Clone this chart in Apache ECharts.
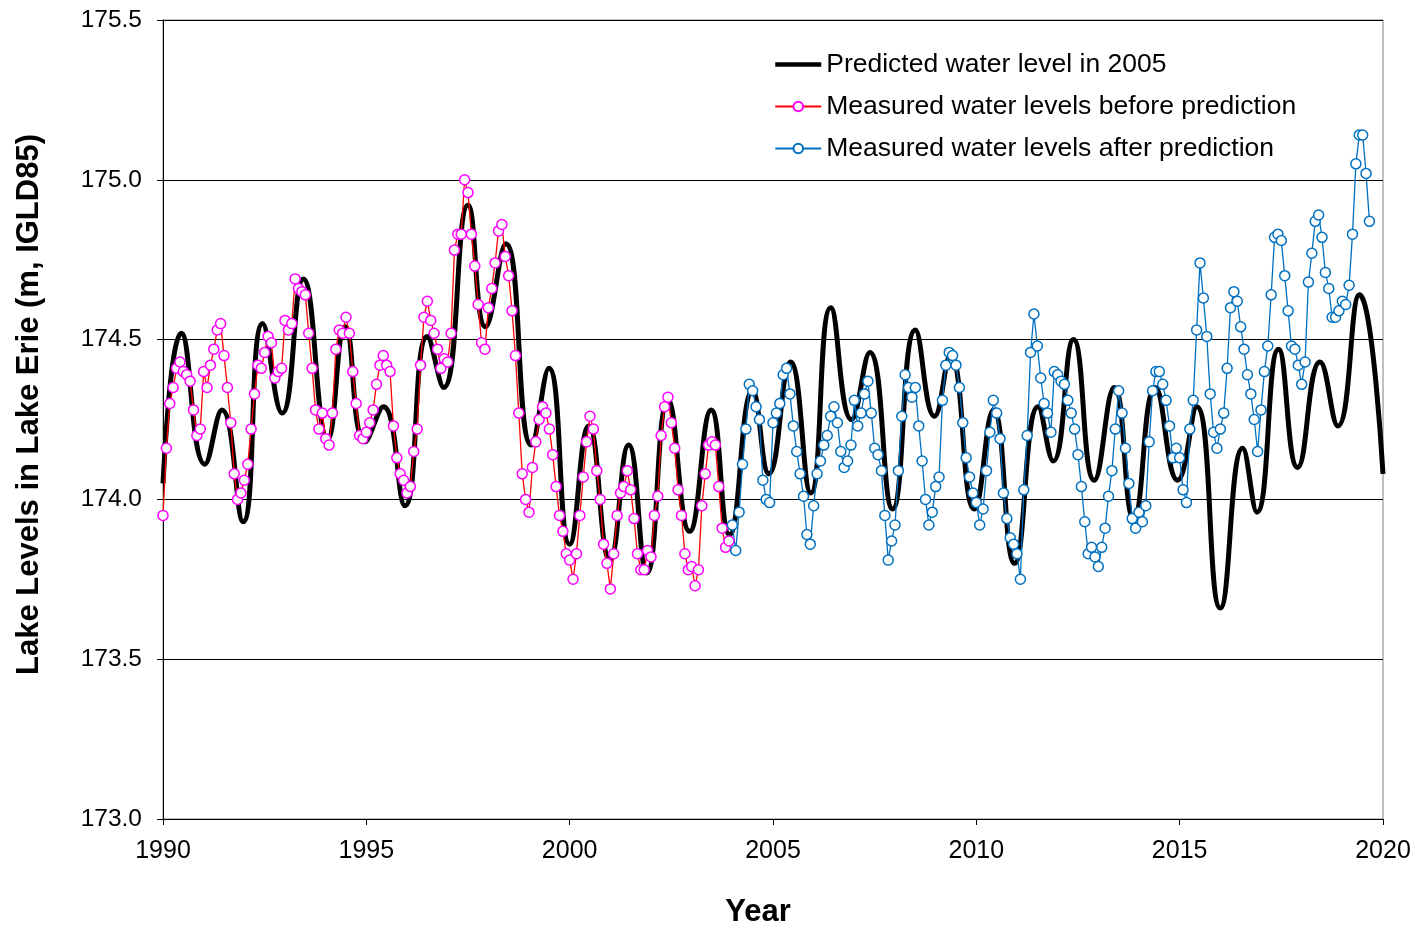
<!DOCTYPE html>
<html>
<head>
<meta charset="utf-8">
<title>Lake Erie water levels</title>
<script src="https://cdn.jsdelivr.net/npm/echarts@6/dist/echarts.min.js"></script>
<style>
  html, body { margin: 0; padding: 0; background: #fff; }
  #chart { width: 1418px; height: 926px; }
</style>
</head>
<body>
<div id="chart"></div>
<script>
// Lake Erie levels: monthly measurements vs the 2005 prediction curve.

// ---------------- data ----------------
var beforeStart = 1990;   // first month of the magenta series (Jan)
var beforeLevels = [
  173.95, 174.16, 174.30, 174.35, 174.41, 174.43, 174.40, 174.39, 174.37, 174.28, 174.20, 174.22, // 1990
  174.40, 174.35, 174.42, 174.47, 174.53, 174.55, 174.45, 174.35, 174.24, 174.08, 174.00, 174.02, // 1991
  174.06, 174.11, 174.22, 174.33, 174.42, 174.41, 174.46, 174.51, 174.49, 174.38, 174.40, 174.41, // 1992
  174.56, 174.53, 174.55, 174.69, 174.66, 174.65, 174.64, 174.52, 174.41, 174.28, 174.22, 174.27, // 1993
  174.19, 174.17, 174.27, 174.47, 174.53, 174.52, 174.57, 174.52, 174.40, 174.30, 174.20, 174.19, // 1994
  174.21, 174.24, 174.28, 174.36, 174.42, 174.45, 174.42, 174.40, 174.23, 174.13, 174.08, 174.06, // 1995
  174.02, 174.04, 174.15, 174.22, 174.42, 174.57, 174.62, 174.56, 174.52, 174.47, 174.41, 174.44, // 1996
  174.43, 174.52, 174.78, 174.83, 174.83, 175.00, 174.96, 174.83, 174.73, 174.61, 174.49, 174.47, // 1997
  174.60, 174.66, 174.74, 174.84, 174.86, 174.76, 174.70, 174.59, 174.45, 174.27, 174.08, 174.00, // 1998
  173.96, 174.10, 174.18, 174.25, 174.29, 174.27, 174.22, 174.14, 174.04, 173.95, 173.90, 173.83, // 1999
  173.81, 173.75, 173.83, 173.95, 174.07, 174.18, 174.26, 174.22, 174.09, 174.00, 173.86, 173.80, // 2000
  173.72, 173.83, 173.95, 174.02, 174.04, 174.09, 174.03, 173.94, 173.83, 173.78, 173.78, 173.84, // 2001
  173.82, 173.95, 174.01, 174.20, 174.29, 174.32, 174.24, 174.16, 174.03, 173.95, 173.83, 173.78, // 2002
  173.79, 173.73, 173.78, 173.98, 174.08, 174.17, 174.18, 174.17, 174.04, 173.91, 173.85, 173.87  // 2003
];

var afterStart = 2004;    // first month of the blue series (Jan)
var afterLevels = [
  173.92, 173.84, 173.96, 174.11, 174.22, 174.36, 174.34, 174.29, 174.25, 174.06, 174.00, 173.99, // 2004
  174.24, 174.27, 174.30, 174.39, 174.41, 174.33, 174.23, 174.15, 174.08, 174.01, 173.89, 173.86, // 2005
  173.98, 174.08, 174.12, 174.17, 174.20, 174.26, 174.29, 174.24, 174.15, 174.10, 174.12, 174.17, // 2006
  174.31, 174.23, 174.27, 174.33, 174.37, 174.27, 174.16, 174.14, 174.09, 173.95, 173.81, 173.87, // 2007
  173.92, 174.09, 174.26, 174.39, 174.35, 174.32, 174.35, 174.23, 174.12, 174.00, 173.92, 173.96, // 2008
  174.04, 174.07, 174.31, 174.42, 174.46, 174.45, 174.42, 174.35, 174.24, 174.13, 174.07, 174.02, // 2009
  173.99, 173.92, 173.97, 174.09, 174.21, 174.31, 174.27, 174.19, 174.02, 173.94, 173.88, 173.86, // 2010
  173.83, 173.75, 174.03, 174.20, 174.46, 174.58, 174.48, 174.38, 174.30, 174.27, 174.21, 174.40, // 2011
  174.39, 174.37, 174.36, 174.31, 174.27, 174.22, 174.14, 174.04, 173.93, 173.83, 173.85, 173.82, // 2012
  173.79, 173.85, 173.91, 174.01, 174.09, 174.22, 174.34, 174.27, 174.16, 174.05, 173.94, 173.91, // 2013
  173.96, 173.93, 173.98, 174.18, 174.34, 174.40, 174.40, 174.36, 174.31, 174.23, 174.13, 174.16, // 2014
  174.13, 174.03, 173.99, 174.22, 174.31, 174.53, 174.74, 174.63, 174.51, 174.33, 174.21, 174.16, // 2015
  174.22, 174.27, 174.41, 174.60, 174.65, 174.62, 174.54, 174.47, 174.39, 174.33, 174.25, 174.15, // 2016
  174.28, 174.40, 174.48, 174.64, 174.82, 174.83, 174.81, 174.70, 174.59, 174.48, 174.47, 174.42, // 2017
  174.36, 174.43, 174.68, 174.77, 174.87, 174.89, 174.82, 174.71, 174.66, 174.57, 174.57, 174.59, // 2018
  174.62, 174.61, 174.67, 174.83, 175.05, 175.14, 175.14, 175.02, 174.87                          // 2019
];

// predicted curve, read at its turning points
var predYears = [
  1990.00, 1990.45, 1991.03, 1991.45, 1991.97, 1992.45, 1992.93, 1993.45, 1994.05, 1994.48,
  1994.97, 1995.42, 1995.95, 1996.50, 1996.90, 1997.50, 1997.93, 1998.43, 1999.06, 1999.49,
  2000.00, 2000.47, 2000.99, 2001.45, 2001.90, 2002.42, 2002.95, 2003.48, 2003.93, 2004.50,
  2004.90, 2005.43, 2005.93, 2006.42, 2006.93, 2007.38, 2007.94, 2008.50, 2008.97, 2009.36,
  2009.95, 2010.42, 2010.94, 2011.52, 2011.89, 2012.39, 2012.90, 2013.39, 2013.87, 2014.40,
  2014.95, 2015.42, 2016.00, 2016.55, 2016.90, 2017.43, 2017.90, 2018.45, 2018.89, 2019.42,
  2020.00
];
var predLevels = [
  174.05, 174.52, 174.11, 174.28, 173.93, 174.55, 174.27, 174.69, 174.19, 174.54,
  174.18, 174.29, 173.98, 174.51, 174.35, 174.92, 174.54, 174.80, 174.17, 174.41,
  173.86, 174.23, 173.81, 174.17, 173.77, 174.31, 173.90, 174.28, 173.89, 174.34,
  174.08, 174.43, 174.02, 174.60, 174.25, 174.46, 173.97, 174.53, 174.26, 174.45,
  173.97, 174.28, 173.80, 174.29, 174.12, 174.50, 174.06, 174.35, 173.94, 174.35,
  174.06, 174.29, 173.66, 174.16, 173.96, 174.47, 174.10, 174.43, 174.23, 174.64,
  174.08
];

var yTicks = ["173.0", "173.5", "174.0", "174.5", "175.0", "175.5"];

// ---------------- helpers ----------------
function monthly(start, vals) {
  return vals.map(function (v, i) { return [start + i / 12, v]; });
}
function pairs(xs, ys) {
  return xs.map(function (x, i) { return [x, ys[i]]; });
}

var FONT = "'Liberation Sans', Arial, sans-serif";
var MAGENTA = "#FF00FF";
var RED = "#FF0000";
var BLUE = "#0070C0";

var chart = echarts.init(document.getElementById("chart"), null, { renderer: "canvas" });

chart.setOption({
  animation: false,
  backgroundColor: "#ffffff",
  textStyle: { fontFamily: FONT },
  grid: {
    left: 163, right: 35, top: 20, bottom: 107,
    outerBoundsMode: "none",
    show: true, borderColor: "#808080", borderWidth: 1
  },
  legend: {
    orient: "vertical",
    left: 768, top: 46,
    itemWidth: 46, itemHeight: 12, itemGap: 15,
    textStyle: { fontFamily: FONT, fontSize: 26.5, color: "#000" },
    data: [
      // the predicted curve has no markers, so hide the legend dot
      {
        name: "Predicted water level in 2005",
        itemStyle: { opacity: 0 },
        lineStyle: { width: 4.5, color: "#000" }
      },
      "Measured water levels before prediction",
      "Measured water levels after prediction"
    ]
  },
  xAxis: {
    type: "value",
    min: 1990, max: 2020, interval: 5,
    name: "Year", nameLocation: "middle", nameGap: 78,
    nameTextStyle: {
      fontFamily: FONT, fontSize: 31, fontWeight: "bold", color: "#000",
      padding: [0, 30, 0, 0]
    },
    axisLine: { lineStyle: { color: "#000", width: 1 } },
    axisTick: { show: true, inside: false, length: 6, lineStyle: { color: "#000" } },
    axisLabel: {
      color: "#000", fontSize: 25, fontFamily: FONT, margin: 20,
      formatter: function (v) { return String(v); }
    },
    splitLine: { show: false }
  },
  yAxis: {
    type: "value",
    min: 173, max: 175.5, interval: 0.5,
    name: "Lake Levels in Lake Erie (m, IGLD85)", nameLocation: "middle", nameGap: 118,
    nameTextStyle: {
      fontFamily: FONT, fontSize: 31, fontWeight: "bold", color: "#000",
      padding: [0, 0, 0, 30]
    },
    axisLine: { show: true, lineStyle: { color: "#000", width: 1 } },
    axisTick: { show: true, inside: false, length: 6, lineStyle: { color: "#000" } },
    axisLabel: {
      color: "#000", fontSize: 24.5, fontFamily: FONT, margin: 21,
      formatter: function (v) {
        var s = v.toFixed(1);
        return yTicks.indexOf(s) >= 0 ? s : "";
      }
    },
    splitLine: { show: true, lineStyle: { color: "#000", width: 1 } }
  },
  series: [
    {
      name: "Predicted water level in 2005",
      type: "line",
      data: pairs(predYears, predLevels),
      smooth: 0.5,
      symbol: "none",
      lineStyle: { color: "#000", width: 5 },
      itemStyle: { color: "#000" },
      z: 2
    },
    {
      name: "Measured water levels before prediction",
      type: "line",
      data: monthly(beforeStart, beforeLevels),
      symbol: "circle", symbolSize: 10,
      lineStyle: { color: RED, width: 1.3 },
      itemStyle: { color: "#fff", borderColor: MAGENTA, borderWidth: 1.5 },
      z: 3
    },
    {
      name: "Measured water levels after prediction",
      type: "line",
      data: monthly(afterStart, afterLevels),
      symbol: "circle", symbolSize: 10,
      lineStyle: { color: BLUE, width: 1.3 },
      itemStyle: { color: "#fff", borderColor: BLUE, borderWidth: 1.5 },
      z: 3
    }
  ]
});
</script>
</body>
</html>
